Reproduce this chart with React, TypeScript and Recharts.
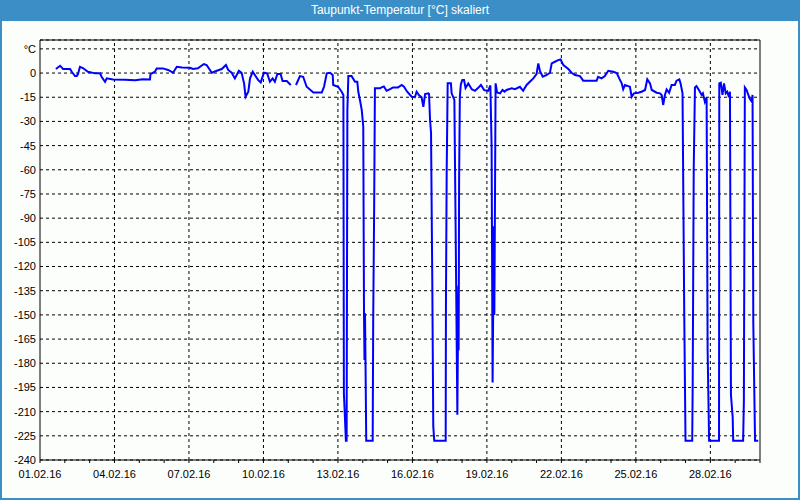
import React from "react";
import { LineChart, Line, XAxis, YAxis, CartesianGrid, ReferenceLine } from "recharts";

// day offsets from 01.02.16 00:00
const DAYS = [
  0.64, 0.81, 0.87, 0.93, 1.21, 1.28, 1.41, 1.48, 1.53, 1.61, 1.73, 1.93, 2.22, 2.42, 2.48, 2.62, 2.69, 2.94,
  3.42, 3.83, 4.15, 4.43, 4.45, 4.63, 4.7, 4.95, 5.16, 5.36, 5.51, 5.72, 6.04, 6.16, 6.36, 6.6, 6.71, 6.92,
  7.12, 7.32, 7.49, 7.58, 7.72, 7.85, 8.01, 8.12, 8.22, 8.28, 8.39, 8.46, 8.57, 8.7, 8.79, 8.89, 9.02, 9.15,
  9.26, 9.37, 9.46, 9.56, 9.69, 9.77, 9.94, 10.1, 10.2, 10.31, 10.47, 10.6, 10.74, 11.01, 11.35, 11.44, 11.55,
  11.68, 11.79, 11.81, 12.01, 12.15, 12.22, 12.24, 12.28, 12.32, 12.35, 12.38, 12.42, 12.55, 12.69, 12.78,
  12.82, 12.89, 12.96, 13.02, 13.05, 13.07, 13.09, 13.11, 13.14, 13.4, 13.42, 13.46, 13.49, 13.69, 13.76,
  13.85, 13.96, 14.1, 14.22, 14.42, 14.57, 14.66, 14.79, 14.97, 15.1, 15.17, 15.26, 15.37, 15.44, 15.51,
  15.64, 15.67, 15.71, 15.75, 15.8, 15.84, 15.88, 16.34, 16.35, 16.38, 16.42, 16.55, 16.58, 16.69, 16.74,
  16.81, 16.85, 16.86, 16.87, 16.88, 16.91, 16.95, 17.01, 17.08, 17.14, 17.25, 17.39, 17.52, 17.63, 17.76,
  17.89, 18.05, 18.14, 18.19, 18.23, 18.28, 18.3, 18.32, 18.35, 18.41, 18.53, 18.63, 18.71, 18.79, 19.0,
  19.13, 19.33, 19.46, 19.6, 19.73, 19.87, 20.0, 20.07, 20.14, 20.25, 20.41, 20.54, 20.61, 20.74, 20.87,
  20.97, 21.08, 21.28, 21.41, 21.55, 21.75, 21.88, 22.15, 22.42, 22.48, 22.62, 22.75, 22.89, 23.09, 23.23,
  23.33, 23.43, 23.49, 23.56, 23.69, 23.76, 23.83, 23.92, 24.1, 24.23, 24.37, 24.46, 24.57, 24.64, 24.84,
  24.97, 25.04, 25.1, 25.17, 25.24, 25.34, 25.44, 25.57, 25.64, 25.75, 25.8, 25.88, 25.95, 26.0, 26.27,
  26.29, 26.33, 26.38, 26.44, 26.54, 26.65, 26.7, 26.78, 26.85, 26.89, 26.95, 27.35, 27.36, 27.42, 27.49,
  27.55, 27.62, 27.68, 27.75, 27.79, 27.83, 27.9, 27.92, 28.32, 28.35, 28.39, 28.46, 28.53, 28.59, 28.66,
  28.7, 28.73, 28.8, 28.93,
];

// Taupunkt in °C (null = Messlücke)
const DEW_POINT = [
  2.5, 4.5, 3.5, 2.5, 2.5, 0.8, -1.9, -1.9, -0.6, 3.9, 3.1, 0.8, -0.2, -0.2, -2.3, -5.4, -3.3, -4,
  -4.2, -4.5, -3.8, -4, -0.6, 0.8, 2.9, 2.9, 1.9, 0.2, 3.9, 3.5, 3.3, 2.5, 3, 5.6, 5, 0.2,
  1.4, 2.5, 5, 1.9, 0.2, -3.3, 1.4, 0.2, -6.4, -14.7, -11.6, -3.3, 0.8, -2.3, -4.4, -5.8, 0.2, -0.2,
  -5.4, -3.3, -5.4, -0.6, -0.6, -5, -5, -7.4, null, -7.4, -1.9, -2.3, -8.5, -12, -12, -8.5, -0.2,
  0.2, -1.2, -7.4, -8.5, -11.6, -13.6, -198.6, -213, -228, -228, -23, -1.9, -1.9, -5.4, -5.4,
  -11.6, -17, -23, -33, -149, -178, -149, -178, -228, -228, -155, -82, -9.5, -9.5, -8.9,
  -8.3, -11, -10, -8.9, -8.9, -7.4, -8.5, -11.6, -14.7, -15, -11.6, -13.6, -15, -21, -13,
  -12.6, -13, -29, -37, -128, -219, -228, -228, -145, -62, -6.4, -6.4, -12.6, -16.7, -95,
  -212, -132, -172, -132, -68, -14.7, -7, -4.3, -4.3, -9.3, -6.5, -10, -11, -9.5, -7.4,
  -10.6, -11, -7.7, -45.7, -192, -95, -150, -95, -6.4, -12, -12.6, -10.5, -11.5, -10.5, -9.5,
  -10, -8.5, -11, -7.4, -5.4, -3.3, -0.6, 6, 1.2, -2.3, -1.2, 0.2, 6, 7, 8,
  8.4, 4.9, 2.5, 0.2, -1.2, -1.9, -4.7, -4.7, -4.7, -2.3, -3.3, -1.9, 1.4, 0.8, 0,
  -3.3, -6.4, -10.1, -7.4, -8.1, -8.5, -14.7, -12.6, -12.2, -11.6, -10.5, -3.9, -6.4, -10.5, -12.2,
  -12.6, -13.6, -19.8, -13.6, -10.1, -12.2, -7.4, -7.4, -4.7, -3.9, -6.4, -12.6, -152, -228, -228,
  -191, -60, -8.9, -8.1, -10.5, -13.6, -12.6, -17.8, -15, -172, -228, -228, -6.4, -6, -13.6,
  -6.4, -12.6, -11.6, -15, -11.6, -199.6, -213.5, -228, -228, -204, -8.9, -10.5, -13.6, -16, -17.6,
  -13.6, -155, -228, -228,
];

const X_TICKS = Array.from({ length: 30 }, (_, i) => i);
const X_LABELS = ["01.02.16", "04.02.16", "07.02.16", "10.02.16", "13.02.16", "16.02.16", "19.02.16", "22.02.16", "25.02.16", "28.02.16"];
const GRID_DAYS = [3, 6, 9, 12, 15, 18, 21, 24, 27];
const Y_TICKS = [15, 0, -15, -30, -45, -60, -75, -90, -105, -120, -135, -150, -165, -180, -195, -210, -225, -240];
const Y_MAX = 20.5;

const data = DAYS.map((d, i) => ({ d, t: DEW_POINT[i] }));

const BLUE = "#3c8fc6";
const font = "'Liberation Sans', Arial, sans-serif";

export default function App() {
  return (
    <div
      style={{
        position: "absolute",
        left: 0,
        top: 0,
        width: 800,
        height: 500,
        boxSizing: "border-box",
        background: "#fcfefc",
        borderLeft: `2px solid ${BLUE}`,
        borderRight: `2px solid ${BLUE}`,
        borderBottom: `2px solid ${BLUE}`,
        fontFamily: font,
      }}
    >
      <div
        style={{
          position: "absolute",
          left: -2,
          top: 0,
          width: 800,
          height: 21,
          background: BLUE,
          color: "#fff",
          fontSize: 12,
          lineHeight: "21px",
          textAlign: "center",
        }}
      >
        Taupunkt-Temperatur [°C] skaliert
      </div>
      <div style={{ position: "absolute", left: -2, top: 0 }}>
        <LineChart width={800} height={500} data={data} margin={{ top: 40, right: 40, bottom: 10, left: 0 }}>
          <CartesianGrid stroke="#000" strokeDasharray="3 3" vertical={false} />
          {GRID_DAYS.map((d) => (
            <ReferenceLine key={d} x={d} stroke="#000" strokeDasharray="3 3" />
          ))}
          <ReferenceLine y={Y_MAX} stroke="#000" />
          <ReferenceLine x={29} stroke="#000" />
          <XAxis
            dataKey="d"
            type="number"
            domain={[0, 29]}
            ticks={X_TICKS}
            interval={0}
            height={30}
            tickSize={3}
            tickMargin={7}
            axisLine={{ stroke: "#000" }}
            tickLine={{ stroke: "#000" }}
            tick={{ fill: "#000", fontSize: 11, fontFamily: font }}
            tickFormatter={(d: number) => (d % 3 === 0 && d < 29 ? X_LABELS[d / 3] : "")}
          />
          <YAxis
            type="number"
            domain={[-240, Y_MAX]}
            ticks={Y_TICKS}
            interval={0}
            width={40}
            tickLine={false}
            tickSize={2}
            tickMargin={2}
            axisLine={{ stroke: "#000" }}
            tick={{ fill: "#000", fontSize: 11, fontFamily: font }}
            tickFormatter={(v: number) => (v === 15 ? "°C" : String(v))}
          />
          <Line
            type="linear"
            dataKey="t"
            stroke="#0000ff"
            strokeWidth={2}
            dot={false}
            connectNulls={false}
            isAnimationActive={false}
          />
        </LineChart>
      </div>
    </div>
  );
}
